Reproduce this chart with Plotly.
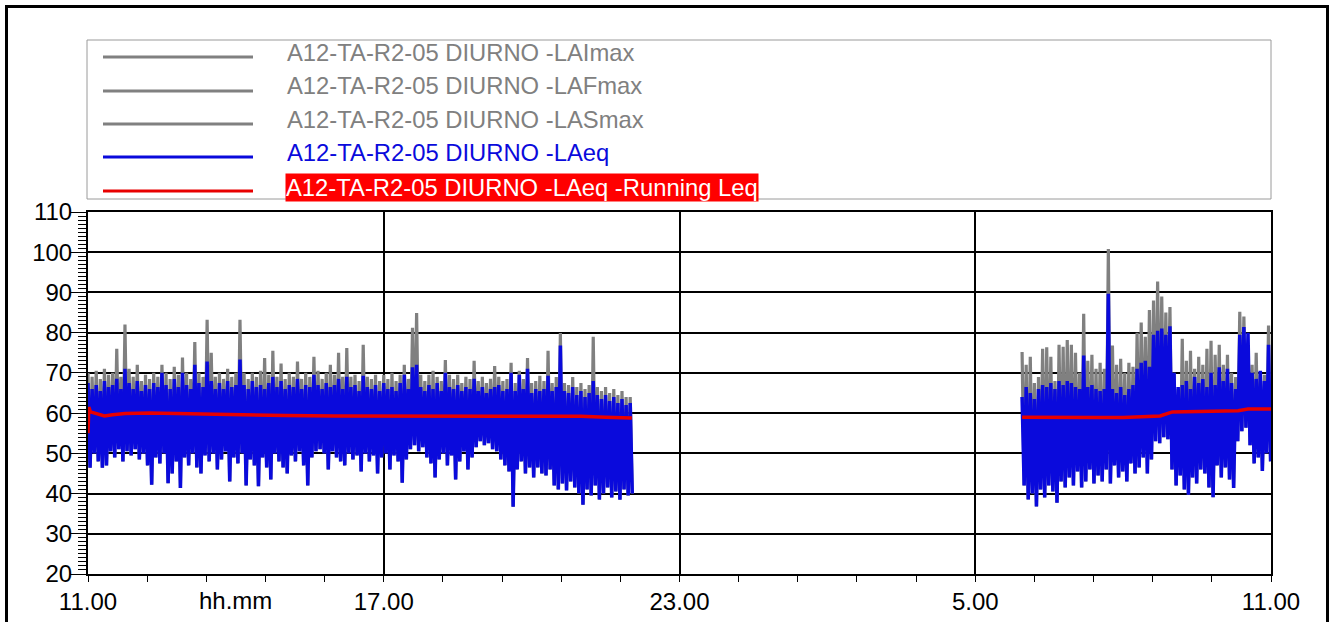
import plotly.graph_objects as go
import pandas as pd

# ---------------- data (5-minute steps) ----------------
seg1_start = "2023-05-10 11:00"
seg2_start = "2023-05-11 05:57"

# segment 1 : 11:00 -> 22:00
laeq_hi_1 = [
    67.5, 66.0, 67.0, 65.5, 68.0, 66.5, 67.0, 68.5, 66.0, 71.0,
    67.5, 66.0, 68.0, 65.5, 67.0, 66.0, 67.5, 66.5, 70.0, 67.0,
    66.0, 68.5, 66.5, 70.0, 67.0, 66.0, 72.0, 67.5, 66.5, 72.8,
    68.0, 66.0, 67.5, 66.0, 68.0, 66.5, 67.0, 73.3, 67.0, 66.0,
    68.0, 66.5, 67.0, 66.0, 67.5, 69.0, 66.5, 68.0, 66.0, 67.0,
    66.5, 68.5, 66.0, 67.0, 66.5, 69.5, 67.0, 66.0, 67.5, 66.5,
    67.0, 68.5, 66.0, 69.0, 66.5, 67.0, 65.5, 69.3, 66.5, 66.0,
    67.0, 65.5, 67.5, 66.0, 66.5, 65.5, 67.5, 69.5, 66.0, 71.4,
    72.0, 66.5, 65.5, 67.0, 66.0, 67.5, 65.5, 70.0, 66.5, 66.0,
    67.0, 65.5, 66.5, 66.0, 68.5, 65.5, 66.5, 65.0, 66.0, 66.5,
    67.0, 65.5, 66.0, 70.0, 65.5, 69.5, 66.0, 71.0, 65.0, 66.0,
    65.5, 66.0, 69.3, 65.5, 66.5, 76.8, 65.5, 65.0, 66.5, 64.5,
    65.5, 64.0, 65.0, 68.0, 64.5, 63.5, 64.5, 63.0, 64.0, 62.5,
    63.5, 62.0, 62.5,
]
laeq_lo_1 = [
    46.4, 50.0, 48.0, 46.4, 47.0, 50.5, 49.0, 51.0, 48.0, 50.5,
    49.5, 51.0, 48.5, 50.0, 47.0, 42.2, 49.0, 47.5, 50.0, 42.6,
    45.0, 48.0, 41.4, 49.0, 47.0, 50.0, 46.5, 45.0, 49.5, 48.0,
    50.0, 46.0, 48.5, 50.5, 43.0, 49.0, 47.5, 50.0, 42.0, 48.5,
    47.0, 41.8, 49.0, 46.5, 43.5, 50.0, 48.0, 46.5, 45.0, 49.5,
    48.0, 50.5, 47.0, 42.0, 49.0, 50.5, 51.0, 50.0, 46.0, 50.5,
    49.0, 48.0, 47.0, 50.0, 48.5, 49.5, 45.5, 50.0, 48.0, 49.5,
    45.0, 49.0, 50.0, 46.0, 49.5, 48.0, 42.7, 48.5, 51.0, 52.0,
    50.5, 51.5, 49.0, 47.5, 44.0, 48.5, 50.0, 47.0, 49.5, 43.5,
    48.0, 50.5, 46.0, 49.0, 51.5, 53.0, 52.0, 52.5, 51.0, 50.5,
    48.5, 47.0, 45.5, 36.7, 46.0, 48.0, 45.0, 46.5, 44.0, 46.5,
    45.0, 44.5, 46.0, 42.0, 41.0, 42.5, 40.8, 43.0, 41.5, 40.0,
    37.2, 41.0, 39.5, 42.0, 38.5, 40.0, 41.5, 39.0, 40.5, 38.5,
    41.0, 39.5, 40.0,
]
lamax_1 = [
    70.0, 69.0, 70.5, 68.5, 71.0, 69.5, 70.0, 76.0, 69.0, 82.0,
    71.0, 69.0, 72.0, 68.0, 69.5, 68.5, 70.0, 69.0, 72.0, 70.0,
    68.5, 71.5, 69.5, 73.8, 70.0, 68.5, 77.7, 70.0, 69.0, 83.2,
    75.0, 69.0, 70.0, 68.5, 71.0, 69.0, 70.0, 83.2, 70.0, 68.5,
    70.0, 69.0, 70.5, 73.7, 69.5, 75.5, 69.0, 72.3, 68.5, 70.0,
    69.0, 72.8, 68.5, 70.0, 69.0, 74.0, 70.5, 68.5, 70.0, 72.0,
    69.5, 75.0, 69.0, 76.2, 69.0, 69.5, 68.0, 77.0, 69.0, 68.5,
    69.5, 68.0, 69.5, 68.5, 70.0, 68.0, 69.5, 72.0, 68.5, 81.2,
    84.9, 69.5, 68.0, 69.5, 70.5, 69.0, 68.0, 73.2, 69.5, 68.5,
    69.5, 67.5, 69.0, 68.5, 73.0, 68.0, 69.0, 67.5, 68.5, 71.7,
    69.0, 68.0, 68.5, 72.5, 67.5, 70.5, 68.5, 73.7, 67.5, 68.0,
    69.3, 68.0, 75.5, 67.5, 69.0, 79.9, 67.5, 67.0, 69.0, 66.5,
    67.5, 66.0, 67.0, 79.0, 66.5, 65.5, 66.5, 65.0, 66.0, 64.5,
    65.5, 64.0, 64.0,
]

# segment 2 : 05:57 -> 10:57
laeq_hi_2 = [
    64.0, 66.5, 65.0, 63.5, 66.0, 67.0, 66.5, 67.5, 66.0, 68.0,
    67.0, 68.0, 67.5, 66.5, 66.0, 74.3, 66.5, 67.0, 66.0, 65.5,
    66.0, 89.7, 66.0, 65.0, 66.5, 64.5, 66.0, 67.0, 71.0, 72.5,
    73.0, 71.5, 79.5, 80.5, 81.0, 79.5, 81.6, 70.0, 66.5, 67.0,
    68.0, 66.0, 69.0, 67.5, 68.5, 66.5, 70.0, 67.0, 71.4, 68.0,
    71.0, 67.5, 66.0, 79.5, 81.4, 80.0, 70.0, 68.5, 70.5, 68.0,
    77.0,
]
laeq_lo_2 = [
    42.0, 38.5, 40.0, 36.8, 41.0, 39.0, 42.0, 40.5, 37.7, 43.0,
    41.5, 44.0, 42.0, 45.5, 41.5, 43.0, 46.0, 42.5, 44.5, 43.0,
    46.0, 42.5, 47.0, 44.0, 45.5, 43.0, 47.5, 45.0, 46.5, 49.0,
    45.0, 48.5, 53.0, 52.5, 54.0, 53.5, 46.0, 42.0, 44.5, 41.0,
    39.7, 44.0, 42.5, 46.0, 45.0, 41.5, 39.1, 47.0, 44.0, 46.5,
    43.5, 41.4, 53.0, 55.5, 56.4, 52.0, 47.5, 49.0, 45.6, 50.0,
    48.0,
]
lamax_2 = [
    75.2, 72.0, 74.0, 67.5, 69.0, 76.0, 76.4, 74.0, 68.0, 77.0,
    76.5, 78.2, 77.0, 75.0, 70.0, 84.7, 73.0, 74.5, 71.0, 72.5,
    71.0, 100.8, 76.8, 72.0, 73.5, 70.0, 72.5, 71.5, 80.0, 82.5,
    79.0, 85.6, 88.0, 92.7, 89.0, 85.0, 86.4, 70.0, 66.0, 78.5,
    73.0, 75.5, 71.0, 74.0, 72.0, 76.0, 78.0, 74.5, 77.0, 72.0,
    74.5, 70.0, 69.0, 85.2, 84.0, 76.4, 72.0, 75.0, 70.0, 69.5,
    81.8,
]

# running Leq
run_t = ["2023-05-10 11:00", "2023-05-10 11:01", "2023-05-10 11:03", "2023-05-10 11:10",
         "2023-05-10 11:20", "2023-05-10 11:30", "2023-05-10 11:45", "2023-05-10 12:15",
         "2023-05-10 13:00", "2023-05-10 14:00", "2023-05-10 15:00", "2023-05-10 16:00",
         "2023-05-10 17:00", "2023-05-10 18:00", "2023-05-10 19:00", "2023-05-10 20:00",
         "2023-05-10 21:00", "2023-05-10 21:30", "2023-05-10 22:02",
         None,
         "2023-05-11 05:57", "2023-05-11 06:30", "2023-05-11 07:00", "2023-05-11 07:30",
         "2023-05-11 08:00", "2023-05-11 08:30", "2023-05-11 08:45", "2023-05-11 09:00",
         "2023-05-11 09:30", "2023-05-11 10:00", "2023-05-11 10:20", "2023-05-11 10:32",
         "2023-05-11 10:45", "2023-05-11 11:00"]
run_v = [55.0, 61.5, 60.3, 59.8, 59.3, 59.6, 59.9, 60.0,
         59.8, 59.5, 59.4, 59.3, 59.3, 59.35, 59.3, 59.4,
         59.2, 59.0, 58.8,
         None,
         59.0, 58.9, 58.8, 58.9, 58.9, 59.1, 59.3, 60.3,
         60.4, 60.4, 60.6, 61.0, 61.0, 61.0]

tick_vals = ["2023-05-10 11:00", "2023-05-10 17:00", "2023-05-10 23:00",
             "2023-05-11 05:00", "2023-05-11 11:00"]
tick_text = ["11.00", "17.00", "23.00", "5.00", "11.00"]

names = ["A12-TA-R2-05 DIURNO -LAImax", "A12-TA-R2-05 DIURNO -LAFmax",
         "A12-TA-R2-05 DIURNO -LASmax", "A12-TA-R2-05 DIURNO -LAeq",
         "A12-TA-R2-05 DIURNO -LAeq -Running Leq"]

GRAY = "#808080"
BLUE = "#0A0ADC"
RED = "#E80000"

step = pd.Timedelta(minutes=5)
half = pd.Timedelta(minutes=2.5)


def zigzag(start, top, bottom):
    xs, ys = [], []
    t0 = pd.Timestamp(start)
    for k, (a, b) in enumerate(zip(top, bottom)):
        t = t0 + k * step
        xs += [t.strftime("%Y-%m-%d %H:%M:%S"), (t + half).strftime("%Y-%m-%d %H:%M:%S")]
        ys += [a, b]
    return xs, ys


gx1, gy1 = zigzag(seg1_start, lamax_1, laeq_lo_1)
gx2, gy2 = zigzag(seg2_start, lamax_2, laeq_lo_2)
bx1, by1 = zigzag(seg1_start, laeq_hi_1, laeq_lo_1)
bx2, by2 = zigzag(seg2_start, laeq_hi_2, laeq_lo_2)

fig = go.Figure()
fig.add_trace(go.Scatter(x=gx1 + [None] + gx2, y=gy1 + [None] + gy2, mode="lines",
                         line=dict(color=GRAY, width=3.2), name=names[0], connectgaps=False))
fig.add_trace(go.Scatter(x=bx1 + [None] + bx2, y=by1 + [None] + by2, mode="lines",
                         line=dict(color=BLUE, width=3.5), name=names[3], connectgaps=False))
fig.add_trace(go.Scatter(x=run_t, y=run_v, mode="lines",
                         line=dict(color=RED, width=3.5), name=names[4], connectgaps=False))

W, H = 1333, 622
L, R, T, B = 88, 62, 212, 48
pw, ph = W - L - R, H - T - B


def px(x):
    return (x - L) / pw


def py(y):
    return (H - B - y) / ph


FS_LEG = 23.8
FS_TICK = 24

shapes = []
# outer frame
shapes.append(dict(type="rect", xref="paper", yref="paper", x0=px(6.5), x1=px(1327.5),
                   y0=py(640), y1=py(6.5), line=dict(color="black", width=3), layer="above"))
# legend box
shapes.append(dict(type="rect", xref="paper", yref="paper", x0=px(87), x1=px(1271),
                   y0=py(199), y1=py(40), line=dict(color="#9a9a9a", width=1)))
row_y = [57, 91, 124, 157, 191]
row_col = [GRAY, GRAY, GRAY, BLUE, RED]
annotations = []
for k in range(5):
    shapes.append(dict(type="line", xref="paper", yref="paper", x0=px(103), x1=px(253),
                       y0=py(row_y[k]), y1=py(row_y[k]), line=dict(color=row_col[k], width=3)))
    if k < 4:
        annotations.append(dict(text=names[k], xref="paper", yref="paper", x=px(285),
                                y=py(row_y[k] - 5), xanchor="left", yanchor="middle",
                                showarrow=False, font=dict(size=FS_LEG, color=row_col[k])))
    else:
        annotations.append(dict(text=names[k], xref="paper", yref="paper", x=px(285),
                                y=py(row_y[k] - 3), xanchor="left", yanchor="middle",
                                showarrow=False, bgcolor="#FF0000", borderpad=0,
                                font=dict(size=FS_LEG, color="white")))

annotations.append(dict(text="hh.mm", xref="x", yref="paper", x="2023-05-10 14:00",
                        y=py(600), xanchor="center", yanchor="middle", showarrow=False,
                        font=dict(size=FS_TICK, color="black")))

fig.update_layout(
    width=W, height=H, margin=dict(l=L, r=R, t=T, b=B, autoexpand=False),
    paper_bgcolor="white", plot_bgcolor="white", showlegend=False,
    font=dict(family="Liberation Sans, Arial, sans-serif", size=FS_TICK, color="black"),
    shapes=shapes, annotations=annotations,
    xaxis=dict(type="date", range=["2023-05-10 11:00", "2023-05-11 11:00"],
               tickmode="array", tickvals=tick_vals, ticktext=tick_text,
               automargin=False,
               showgrid=True, gridcolor="black", gridwidth=2,
               showline=True, linecolor="black", linewidth=2, mirror=True,
               ticks="outside", ticklen=6, tickcolor="black", zeroline=False,
               ticklabelstandoff=-1,
               minor=dict(dtick=72 * 60 * 1000, tick0="2023-05-10 11:00", ticks="outside",
                          ticklen=6, tickcolor="black", showgrid=False)),
    yaxis=dict(range=[20, 110], tick0=20, dtick=10, automargin=False,
               showgrid=True, gridcolor="black", gridwidth=2,
               showline=True, linecolor="black", linewidth=2, mirror=True,
               ticks="outside", ticklen=16, tickcolor="black", zeroline=False,
               ticklabelstandoff=-7,
               minor=dict(dtick=1, ticks="outside", ticklen=8, tickcolor="black",
                          showgrid=False)),
)

fig.write_html("out.html")
